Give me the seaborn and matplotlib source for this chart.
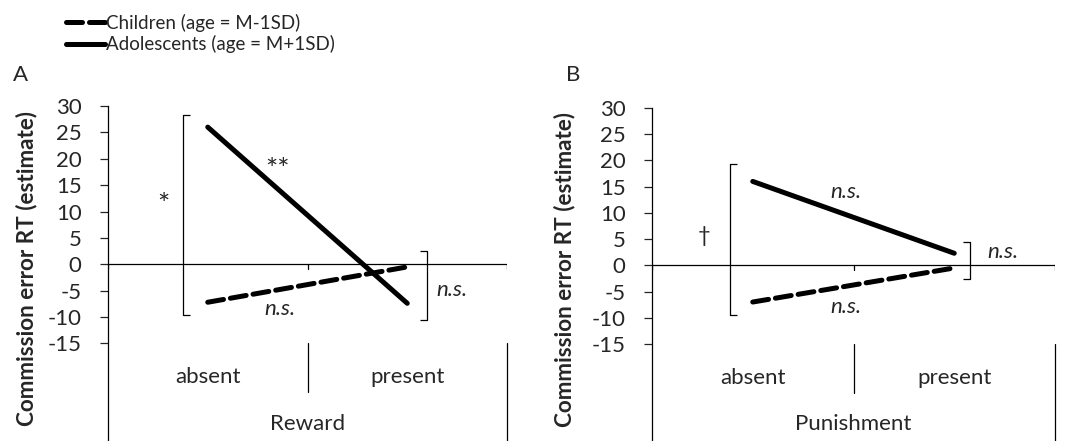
import pandas as pd
import numpy as np
import matplotlib.pyplot as plt
import seaborn as sns

# values
conditions = ["absent", "present"]
groups = ["Children (age = M-1SD)", "Adolescents (age = M+1SD)"]
reward_children = [-7.2, -0.5]
reward_adolescents = [26.0, -7.4]
punish_children = [-7.0, -0.5]
punish_adolescents = [16.0, 2.3]
yticks = list(range(-15, 31, 5))

sns.set_style("white")
plt.rcParams["font.family"] = ["Lato", "DejaVu Sans"]

FS = 16


def make_df(children, adolescents):
    rows = []
    for g, vals in zip(groups, [children, adolescents]):
        for c, v in zip(conditions, vals):
            rows.append({"condition": c, "group": g, "value": v})
    return pd.DataFrame(rows)


def bracket(ax, x, y0, y1, side, tick=0.035):
    d = tick if side == "right" else -tick
    ax.plot([x + d, x, x, x + d], [y1, y1, y0, y0], color="black", lw=0.9,
            clip_on=False, solid_capstyle="butt")


def draw_panel(ax, df, factor_name, label_x):
    sns.lineplot(data=df, x="condition", y="value", hue="group", style="group",
                 hue_order=groups, style_order=groups,
                 palette=["black", "black"],
                 dashes={groups[0]: (3.2, 1.4), groups[1]: ""},
                 linewidth=3.6, ax=ax, legend=True, sort=False)
    for ln in ax.lines:
        ln.set_solid_capstyle("round")
        ln.set_dash_capstyle("round")
    ax.set_xlim(-0.5, 1.5)
    ax.set_ylim(-33.5, 30)
    ax.set_yticks(yticks)
    ax.set_yticklabels([str(t) for t in yticks], fontsize=FS)
    ax.set_xticks([])
    ax.set_xlabel("")
    ax.set_ylabel("Commission error RT (estimate)", fontsize=16.2,
                  fontweight="bold")
    ax.yaxis.set_label_coords(label_x, 0.515)
    ax.tick_params(axis="y", direction="out", length=6, width=0.9, pad=13,
                   left=True)
    for s in ["top", "right", "bottom"]:
        ax.spines[s].set_visible(False)
    ax.spines["left"].set_linewidth(0.9)
    ax.spines["left"].set_color("black")
    # zero line with small category ticks
    ax.axhline(0, color="black", lw=0.9, zorder=1)
    for xp in [-0.5, 0.5, 1.5]:
        ax.plot([xp, xp], [0, -0.9], color="black", lw=0.9)
    # category boxes below the plot
    ax.plot([0.5, 0.5], [-15, -24.3], color="black", lw=0.9, clip_on=False)
    ax.plot([1.5, 1.5], [-15, -33.5], color="black", lw=0.9, clip_on=False)
    for i, c in enumerate(conditions):
        ax.text(i, -21.4, c, ha="center", va="center", fontsize=FS)
    ax.text(0.5, -30.3, factor_name, ha="center", va="center", fontsize=FS)


fig = plt.figure(figsize=(10.78, 4.41), dpi=100)
axA = fig.add_axes([108 / 1078, 0, 399 / 1078, (441 - 106) / 441])
axB = fig.add_axes([652 / 1078, 0, 403 / 1078, (441 - 108) / 441])

draw_panel(axA, make_df(reward_children, reward_adolescents), "Reward", -0.178)
draw_panel(axB, make_df(punish_children, punish_adolescents), "Punishment", -0.19)

handles, labels = axA.get_legend_handles_labels()
axA.get_legend().remove()
axB.get_legend().remove()

# significance brackets and labels, panel A
bracket(axA, -0.124, -9.7, 28.3, "right")
bracket(axA, 1.10, -10.6, 2.5, "left")
axA.text(-0.224, 11.0, "*", ha="center", va="center", fontsize=21)
axA.text(0.352, 17.6, "**", ha="center", va="center", fontsize=21)
axA.text(1.224, -4.8, "n.s.", ha="center", va="center", fontsize=FS,
         style="italic")
axA.text(0.362, -8.4, "n.s.", ha="center", va="center", fontsize=FS,
         style="italic")

# panel B
bracket(axB, -0.113, -9.4, 19.3, "right")
bracket(axB, 1.078, -2.7, 4.4, "left")
axB.text(-0.242, 5.5, "\u2020", ha="center", va="center", fontsize=FS)
axB.text(0.46, 14.0, "n.s.", ha="center", va="center", fontsize=FS,
         style="italic")
axB.text(0.46, -8.0, "n.s.", ha="center", va="center", fontsize=FS,
         style="italic")
axB.text(1.24, 2.5, "n.s.", ha="center", va="center", fontsize=FS,
         style="italic")

fig.text(13 / 1078, 1 - 75 / 441, "A", fontsize=FS, va="center")
fig.text(566 / 1078, 1 - 75 / 441, "B", fontsize=FS, va="center")

leg = fig.legend(handles, labels, loc="upper left",
                 bbox_to_anchor=(58 / 1078, 1 - 6 / 441), frameon=False,
                 fontsize=13.5, handlelength=2.1, handletextpad=0.05,
                 labelspacing=0.2, borderaxespad=0)
for h in leg.get_lines():
    h.set_linewidth(3.6)

fig.savefig("out.png", dpi=100)
